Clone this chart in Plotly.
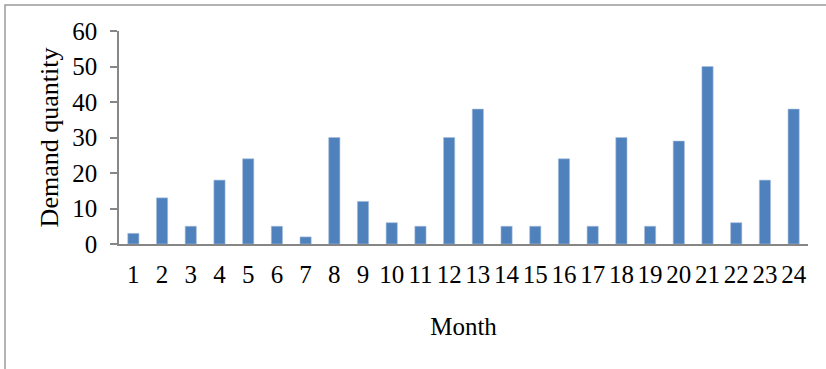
import plotly.graph_objects as go

# Monthly demand data
months = [str(m) for m in range(1, 25)]
demand = [3, 13, 5, 18, 24, 5, 2, 30, 12, 6, 5, 30, 38, 5, 5, 24, 5, 30, 5, 29, 50, 6, 18, 38]

W, H = 826, 369
ML, MR, MT, MB = 119, 18, 31, 125
FONT = "Liberation Serif, Times New Roman, serif"
AXIS_GREY = "#868686"

fig = go.Figure(
    go.Bar(
        x=months,
        y=demand,
        marker=dict(color="#4F81BD", line=dict(color="#A7C0DE", width=0.6)),
        width=0.39,
    )
)

pw = W - ML - MR
ph = H - MT - MB
# outer frame of the chart object (top and left edges visible)
fig.add_shape(
    type="rect", xref="paper", yref="paper",
    x0=(5 - ML) / pw, x1=(W + 20 - ML) / pw,
    y0=-(H + 20 - MT - ph) / ph, y1=1 + (MT - 5) / ph,
    line=dict(color="#9A9A9A", width=1.5), fillcolor="rgba(0,0,0,0)", layer="below",
)

fig.update_layout(
    width=W, height=H,
    margin=dict(l=ML, r=MR, t=MT, b=MB),
    paper_bgcolor="white", plot_bgcolor="white",
    showlegend=False,
    font=dict(family=FONT, size=25, color="black"),
    xaxis=dict(
        type="category",
        tickmode="array", tickvals=months, ticktext=months,
        showline=True, linecolor=AXIS_GREY, linewidth=1.5,
        ticks="", showgrid=False,
        ticklabelstandoff=7,
        title=dict(text="Month", font=dict(size=25), standoff=31),
    ),
    yaxis=dict(
        range=[0, 60], dtick=10,
        showline=True, linecolor=AXIS_GREY, linewidth=1.5,
        ticks="outside", ticklen=7, tickcolor=AXIS_GREY, tickwidth=1.5,
        showgrid=False, zeroline=False,
        ticklabelstandoff=8,
        title=dict(text="Demand quantity", font=dict(size=26), standoff=6),
    ),
)

fig.write_html("out.html")
